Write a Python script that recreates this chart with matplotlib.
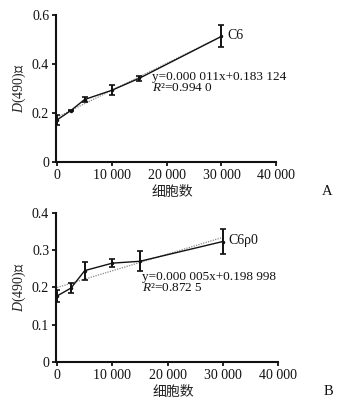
import numpy as np
import matplotlib.pyplot as plt

plt.rcParams['font.family'] = ['Liberation Serif', 'Noto Sans CJK SC', 'DejaVu Sans']
plt.rcParams['mathtext.fontset'] = 'custom'
plt.rcParams['mathtext.rm'] = 'Liberation Serif'
plt.rcParams['mathtext.it'] = 'Liberation Serif:italic'

cells = [0, 2500, 5000, 10000, 15000, 30000]
x_ticks = [0, 10000, 20000, 30000, 40000]
x_tick_labels = ['0', '10 000', '20 000', '30 000', '40 000']

# panel A: C6
c6_mean = [0.172, 0.210, 0.255, 0.293, 0.342, 0.513]
c6_err = [0.020, 0.003, 0.010, 0.020, 0.010, 0.045]
c6_eq = 'y=0.000 011x+0.183 124'
c6_r2 = '0.994 0'

# panel B: C6rho0
c6r_mean = [0.177, 0.198, 0.245, 0.265, 0.270, 0.323]
c6r_err = [0.017, 0.013, 0.024, 0.011, 0.027, 0.033]
c6r_eq = 'y=0.000 005x+0.198 998'
c6r_r2 = '0.872 5'

fig = plt.figure(figsize=(3.44, 4.07), dpi=100)
axA = fig.add_axes([0.163, 0.602, 0.640, 0.361])
axB = fig.add_axes([0.163, 0.111, 0.645, 0.366])

def draw_panel(ax, mean, err, name, eq, r2, ymax, ystep, name_y, eq_xy, letter):
    x = np.array(cells)
    y = np.array(mean)
    k, b = np.polyfit(x, y, 1)
    xf = np.array([0, 30000])
    ax.plot(xf, k * xf + b, color='#888888', lw=0.9, ls=(0, (1, 1)), zorder=1)
    ax.errorbar(x, y, yerr=err, color='#111111', lw=1.0, elinewidth=1.4,
                capsize=2, capthick=1.2, marker='o', ms=1.5, zorder=2)
    ax.set_xticks(x_ticks)
    ax.set_xticklabels(x_tick_labels)
    yt = np.arange(0, ymax + 1e-9, ystep)
    ax.set_yticks(yt)
    ax.set_yticklabels(['0'] + ['%g' % v for v in yt[1:]])
    for s in ['top', 'right']:
        ax.spines[s].set_visible(False)
    for s in ['left', 'bottom']:
        ax.spines[s].set_linewidth(1.5)
        ax.spines[s].set_color('#111111')
    ax.tick_params(direction='out', length=3, width=1.3, labelsize=10,
                   colors='#111111', pad=2)
    ax.set_xlim(-200, 40000)
    ax.set_ylim(0, ymax)
    ax.spines['left'].set_bounds(0, ymax)
    ax.spines['bottom'].set_bounds(0, 40000)
    ax.set_ylabel('$\\it{D}$(490)值', fontsize=10, color='#222222', labelpad=3)
    ax.set_xlabel('细胞数', fontsize=10, color='#222222', labelpad=1)
    ax.xaxis.set_label_coords(0.53, -0.165)
    ax.text(31000, name_y, name, fontsize=10, va='center', color='#111111')
    ax.text(eq_xy[0], eq_xy[1], eq + '\n$\\it{R}$²=' + r2, fontsize=9.5,
            va='top', ha='left', color='#111111', linespacing=0.95)
    ax.text(1.205, -0.2, letter, transform=ax.transAxes,
            fontsize=10.5, color='#111111', va='center')

draw_panel(axA, c6_mean, c6_err, 'C6', c6_eq, c6_r2, 0.6, 0.2, 0.515, (17300, 0.372), 'A')
draw_panel(axB, c6r_mean, c6r_err, 'C6ρ0', c6r_eq, c6r_r2, 0.4, 0.1, 0.325, (15400, 0.245), 'B')

fig.savefig('out.png', dpi=100)
